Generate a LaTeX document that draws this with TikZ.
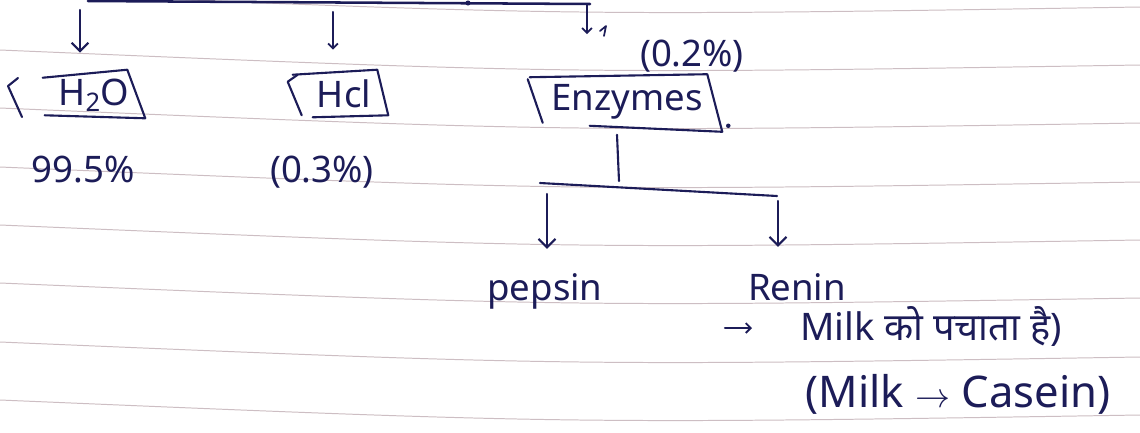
\documentclass[tikz,border=0pt]{standalone}
\usepackage{fontspec}
\setmainfont{Noto Sans}
\newfontfamily\deva[Script=Devanagari]{Noto Sans}
\usetikzlibrary{arrows.meta,calc}
\definecolor{ink}{RGB}{28,28,88}
\definecolor{rulec}{RGB}{205,190,195}
\begin{document}
\begin{tikzpicture}[x=0.25mm,y=-0.25mm,
  pen/.style={draw=ink,line width=1.5pt,line cap=round,line join=round},
  arr/.style={pen,-{Straight Barb[length=6pt,width=12pt,line width=1.5pt]}},
  sarr/.style={pen,-{Straight Barb[length=3.5pt,width=7pt,line width=1.3pt]}},
  txt/.style={text=ink,font=\fontsize{26}{30}\selectfont,inner sep=0pt},
  ruleline/.style={draw=rulec,line width=0.7pt}]
\useasboundingbox (0,0) rectangle (1140,432);
\fill[white] (0,0) rectangle (1140,432);
% ruled paper lines
\foreach \y in {-8,50,108,167,225,283,342,400}
  \draw[ruleline] (0,\y) .. controls (570,\y+24) .. (1140,\y+15);

% nodes
\node[txt,minimum width=25.5mm,minimum height=12.5mm] (h2o) at (94,95) {H\textsubscript{2}O};
\node[txt,minimum width=25mm,minimum height=12mm] (hcl) at (338,94) {\hspace{3mm}Hcl};
\node[txt,minimum width=47.5mm,minimum height=13.75mm] (enz) at (625,102) {\hspace{1mm}Enzymes};
\node[txt] (p995) at (83,170) {99.5\%};
\node[txt] (p03) at (322,172) {(0.3\%)};
\node[txt] (p02) at (692,56) {(0.2\%)};
\node[txt,anchor=base] (pepsin) at (545,300) {pepsin};
\node[txt,anchor=base] (renin) at (797,300) {Renin};
\node[txt,anchor=base west,font=\fontsize{27}{30}\selectfont] (milk) at (800,340) {Milk {\deva को पचाता है})};
\node[txt,anchor=base,font=\fontsize{31}{34}\selectfont] (casein) at (958,407) {(Milk $\rightarrow$ Casein)};

% box strokes
\draw[pen] ($(h2o.north west)+(0,8)$) -- ($(h2o.north east)+(-18,0)$) -- ($(h2o.south east)+(0,-2)$) -- ($(h2o.south west)+(2,-5)$);
\draw[pen] (18,78) -- (8,86) -- (22,117);
\draw[pen] ($(hcl.north west)+(10,5)$) -- ($(hcl.north west)+(0,12)$) -- ($(hcl.south west)+(14,-3)$);
\draw[pen] ($(hcl.north west)+(5,5)$) -- ($(hcl.north east)+(-11,0)$) -- ($(hcl.south east)+(0,-3)$) -- ($(hcl.south west)+(25,-1)$);
\draw[pen] ($(enz.north west)+(-2,5)$) -- ($(enz.south west)+(13,-7)$);
\draw[pen] ($(enz.north west)+(0,3)$) -- ($(enz.north east)+(-13,0)$) -- ($(enz.south east)+(2,2)$) -- ($(enz.south west)+(60,-4)$);
\fill[ink] ($(enz.south east)+(8,-4)$) circle (1.6pt);

% top bar and arrows
\coordinate (tl) at (88,1);
\coordinate (tr) at (590,4);
\coordinate (b1) at (80,10);
\coordinate (b2) at (333,12);
\coordinate (b3) at (587,5);
\draw[pen,line width=1.8pt] (tl) -- (tr);
\fill[ink] (468,3) circle (1.8pt);
\draw[arr,shorten >=4.25mm] (b1) -- (b1 |- h2o.north);
\draw[sarr,shorten >=5mm] (b2) -- (b2 |- hcl.north);
\draw[sarr,shorten >=10mm] (b3) -- (b3 |- enz.north);
\draw[pen,line width=1.2pt] (600,31) -- (606,26) -- (604,36);

% enzymes branch
\coordinate (j) at (619,181);
\coordinate (hl) at (540,183);
\coordinate (hr) at (777,196);
\coordinate (q1) at (547,194);
\coordinate (q2) at (778,201);
\draw[pen] ($(enz.south)+(-8,5)$) -- (j);
\draw[pen] (hl) -- (hr);
\draw[arr,shorten >=6mm] (q1) -- (q1 |- pepsin.north);
\draw[arr,shorten >=6.5mm] (q2) -- (q2 |- renin.north);

% renin note arrow
\coordinate (m0) at (725,328);
\draw[sarr,shorten >=12mm] (m0) -- (m0 -| milk.west);
\end{tikzpicture}
\end{document}
